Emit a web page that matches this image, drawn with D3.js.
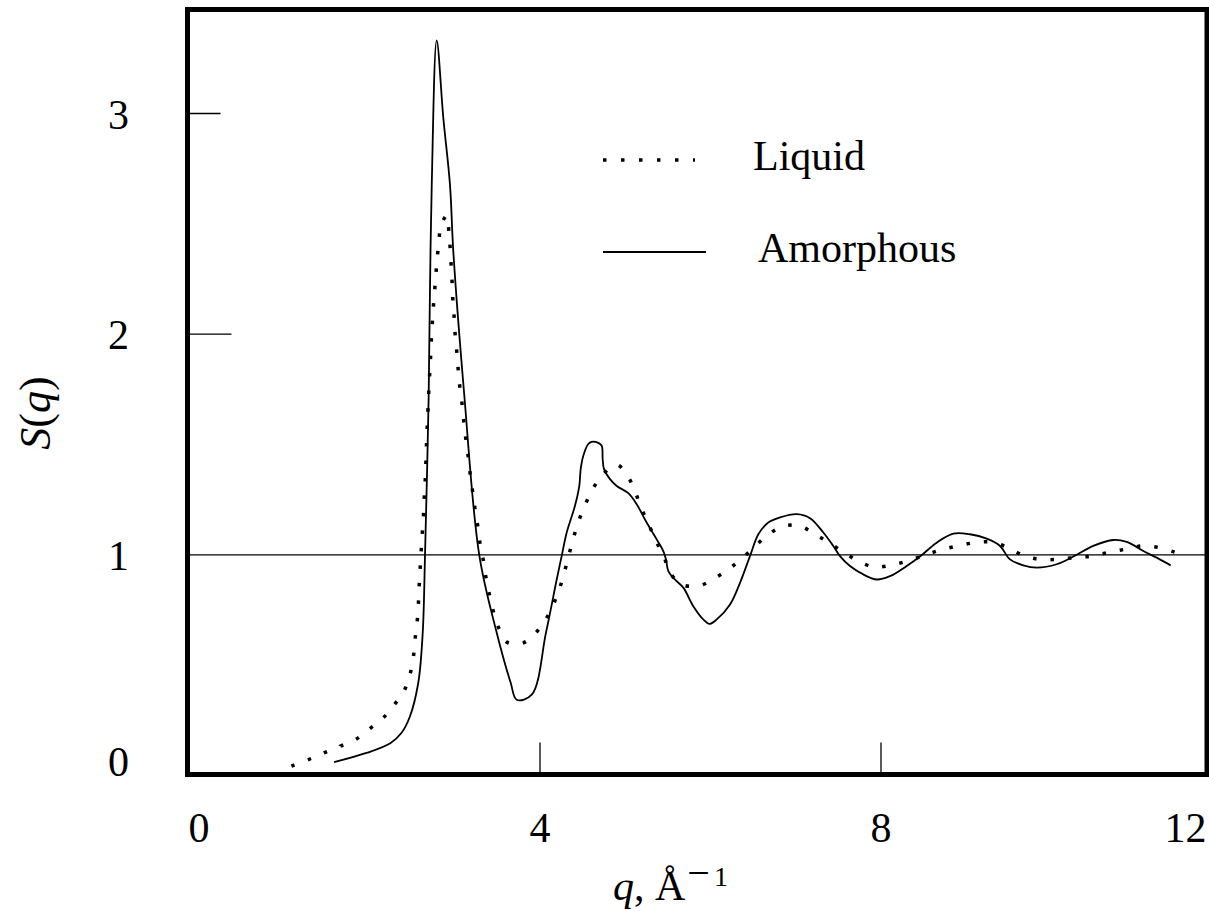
<!DOCTYPE html>
<html>
<head>
<meta charset="utf-8">
<script src="https://cdn.jsdelivr.net/npm/d3@7"></script>
<style>
  html, body { margin: 0; padding: 0; background: #fff; }
  svg { display: block; }
  text { font-family: 'Liberation Serif', 'Times New Roman', serif; fill: #000; }
</style>
</head>
<body>
<svg id="chart" width="1209" height="911"></svg>
<script>
// values: q in 1/Å, S(q)
const qLiquid = [1.09, 1.29, 1.47, 1.66, 1.84, 2.01, 2.17, 2.30, 2.41, 2.48, 2.52, 2.54, 2.563, 2.578, 2.587, 2.598, 2.610, 2.622, 2.637, 2.645, 2.657, 2.665, 2.672, 2.680, 2.689,
    2.707, 2.719, 2.727, 2.739, 2.751, 2.766, 2.782, 2.798, 2.818, 2.845, 2.911, 2.938, 2.954, 2.965, 2.977, 2.985, 3.001, 3.012, 3.032, 3.048, 3.067,
    3.094, 3.114, 3.138, 3.165, 3.188, 3.216, 3.243, 3.275, 3.302, 3.341, 3.372, 3.411, 3.458, 3.521, 3.622, 3.810, 3.967, 4.084, 4.174, 4.244, 4.299,
    4.350, 4.405, 4.467, 4.542, 4.631, 4.748, 4.906, 5.042, 5.128, 5.199, 5.285, 5.367, 5.460, 5.531, 5.668, 5.863, 6.047, 6.215, 6.372, 6.524, 6.672, 6.848, 7.044,
    7.220, 7.396, 7.564, 7.740, 7.927, 8.123, 8.319, 8.510, 8.706, 8.906, 9.105, 9.300, 9.496, 9.675, 9.871, 10.067, 10.270, 10.473, 10.672, 10.868, 11.071, 11.271, 11.463]
const sLiquid = [0.04, 0.07, 0.10, 0.13, 0.16, 0.21, 0.26, 0.32, 0.38, 0.455, 0.533, 0.614, 0.686, 0.765, 0.844, 0.923, 1.001, 1.080, 1.159, 1.236, 1.314, 1.392, 1.470, 1.550, 1.629,
    1.788, 1.864, 1.942, 2.020, 2.099, 2.177, 2.255, 2.333, 2.410, 2.490, 2.535, 2.455, 2.377, 2.299, 2.220, 2.142, 2.064, 1.985, 1.909, 1.830, 1.753,
    1.674, 1.595, 1.517, 1.440, 1.360, 1.283, 1.206, 1.129, 1.050, 0.973, 0.895, 0.821, 0.742, 0.667, 0.601, 0.599, 0.649, 0.712, 0.783, 0.856, 0.929,
    1.005, 1.083, 1.159, 1.230, 1.300, 1.364, 1.406, 1.349, 1.277, 1.205, 1.132, 1.060, 0.990, 0.917, 0.864, 0.856, 0.890, 0.932, 0.980, 1.035, 1.086, 1.126, 1.130,
    1.094, 1.053, 1.010, 0.970, 0.942, 0.951, 0.970, 0.995, 1.020, 1.038, 1.053, 1.056, 1.030, 0.995, 0.977, 0.977, 0.985, 0.992, 1.008, 1.023, 1.038, 1.030, 1.008]

const qAmorphous = [1.59, 1.97, 2.25, 2.38, 2.48, 2.578, 2.630, 2.657, 2.700, 2.716, 2.736, 2.794, 2.872, 2.950, 2.989, 3.118, 3.294, 3.498, 3.662, 3.733, 3.909,
    4.076, 4.202, 4.260, 4.319, 4.416, 4.467, 4.483, 4.514, 4.572, 4.612, 4.690, 4.730, 4.741, 4.757, 4.827, 4.906, 5.042, 5.140, 5.257, 5.375, 5.452, 5.484, 5.511,
    5.589, 5.687, 5.804, 5.921, 5.992, 6.079, 6.235, 6.352, 6.469, 6.567, 6.684, 6.821, 7.017, 7.173, 7.329, 7.446, 7.525, 7.642, 7.798, 7.955, 8.111, 8.307,
    8.463, 8.659, 8.854, 9.050, 9.246, 9.402, 9.519, 9.675, 9.832, 10.067, 10.262, 10.496, 10.731, 10.888, 11.083, 11.240, 11.404]
const sAmorphous = [0.058, 0.100, 0.144, 0.190, 0.265, 0.418, 0.644, 0.995, 1.720, 2.220, 2.674, 3.329, 2.977, 2.674, 2.373, 1.720, 0.995, 0.645, 0.418, 0.341, 0.364,
    0.645, 0.886, 0.992, 1.099, 1.220, 1.310, 1.386, 1.447, 1.500, 1.510, 1.505, 1.492, 1.432, 1.386, 1.341, 1.310, 1.277, 1.227, 1.144, 1.068, 1.015, 0.977, 0.924,
    0.886, 0.849, 0.765, 0.705, 0.685, 0.705, 0.773, 0.871, 0.992, 1.091, 1.144, 1.167, 1.182, 1.164, 1.099, 1.038, 0.992, 0.947, 0.909, 0.886, 0.901, 0.947,
    0.990, 1.053, 1.094, 1.091, 1.071, 1.038, 0.977, 0.950, 0.940, 0.955, 0.990, 1.038, 1.065, 1.056, 1.015, 0.985, 0.950]

const xTicks = [0, 4, 8, 12]
const yTicks = [0, 1, 2, 3]
const seriesNames = ['Liquid', 'Amorphous']

const frame = { left: 187.5, right: 1207, top: 9.5, bottom: 774.5 }
const fontSize = 42

const svg = d3.select('#chart')

const x = d3.scaleLinear().domain([0, 12]).range([198.5, 1221.5])
const y = d3.scaleLinear().domain([0, 3]).range([775, 113])

// x axis: labels under the frame, short ticks pointing up
const xAxis = svg.append('g')
    .attr('transform', `translate(0,${frame.bottom})`)
    .call(d3.axisBottom(x).tickValues(xTicks).tickFormat(d3.format('d'))
        .tickSizeInner(-32).tickSizeOuter(0).tickPadding(38))
xAxis.select('.domain').remove()
xAxis.selectAll('.tick line')
    .attr('stroke', '#000').attr('stroke-width', 1.3)
    .filter(d => d === 0 || d === 12).remove()
xAxis.selectAll('.tick text')
    .style('font-size', fontSize + 'px')
    .attr('fill', '#000')
xAxis.selectAll('.tick text').filter(d => d === 12) // last label is pulled inside the picture
    .attr('text-anchor', 'end')
    .attr('x', frame.right - 1 - x(12))

// y axis: the tick at 1 runs across the whole frame
const yAxis = svg.append('g')
    .attr('transform', `translate(${frame.left},0)`)
    .call(d3.axisLeft(y).tickValues(yTicks).tickFormat(d3.format('d'))
        .tickSizeInner(-44).tickSizeOuter(0))
yAxis.select('.domain').remove()
yAxis.selectAll('.tick line')
    .attr('stroke', '#000').attr('stroke-width', 1.3)
    .attr('x2', d => d === 1 ? frame.right - frame.left : d === 3 ? 33 : 44)
    .filter(d => d === 0).remove()
yAxis.selectAll('.tick text')
    .style('font-size', fontSize + 'px')
    .attr('fill', '#000')
    .attr('text-anchor', 'middle')
    .attr('x', 118.5 - frame.left)
    .attr('dy', d => d === 0 ? 0 : 15)

// curves
const line = (qs, ss) => d3.line()
    .x(i => x(qs[i]))
    .y(i => y(ss[i]))
    .curve(d3.curveCatmullRom.alpha(0.5))(d3.range(qs.length))

svg.append('path')
    .attr('d', line(qLiquid, sLiquid))
    .attr('fill', 'none')
    .attr('stroke', '#000')
    .attr('stroke-width', 3.5)
    .attr('stroke-dasharray', '3.5 14')

svg.append('path')
    .attr('d', line(qAmorphous, sAmorphous))
    .attr('fill', 'none')
    .attr('stroke', '#000')
    .attr('stroke-width', 1.8)

// frame
svg.append('rect')
    .attr('x', frame.left)
    .attr('y', frame.top)
    .attr('width', frame.right - frame.left)
    .attr('height', frame.bottom - frame.top)
    .attr('fill', 'none')
    .attr('stroke', '#000')
    .attr('stroke-width', 5)

// legend
const legend = svg.append('g').attr('class', 'legend')
const lg = legend.selectAll('g')
    .data(seriesNames)
    .enter()
    .append('g')
    .attr('transform', (d, i) => `translate(603,${160 + i * 92})`)

lg.append('line')
    .attr('x1', 0)
    .attr('x2', (d, i) => i === 0 ? 92 : 103)
    .attr('stroke', '#000')
    .attr('stroke-width', (d, i) => i === 0 ? 3.5 : 1.8)
    .attr('stroke-dasharray', (d, i) => i === 0 ? '3.5 14.5' : null)

lg.append('text')
    .attr('x', (d, i) => i === 0 ? 150 : 155)
    .attr('y', 10)
    .style('font-size', fontSize + 'px')
    .text(d => d)

// axis titles
const xTitle = svg.append('text')
    .attr('x', 613)
    .attr('y', 900)
    .style('font-size', fontSize + 'px')
xTitle.append('tspan').style('font-style', 'italic').text('q')
xTitle.append('tspan').text(', Å')
xTitle.append('tspan').attr('dx', 2).attr('dy', -14).style('font-size', '40px').text('−')
xTitle.append('tspan').attr('dx', 4).style('font-size', '28px').text('1')

const yTitle = svg.append('text')
    .attr('transform', 'translate(50,413) rotate(-90)')
    .attr('text-anchor', 'middle')
    .style('font-size', '44px')
yTitle.append('tspan').style('font-style', 'italic').text('S')
yTitle.append('tspan').text('(')
yTitle.append('tspan').style('font-style', 'italic').text('q')
yTitle.append('tspan').text(')')
</script>
</body>
</html>
